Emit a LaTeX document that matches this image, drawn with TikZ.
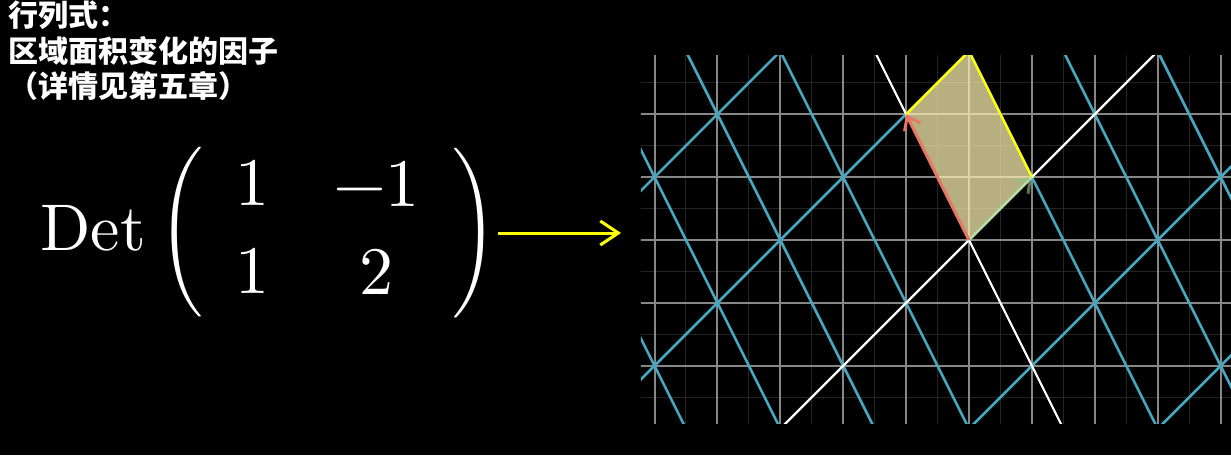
\documentclass[tikz,border=0pt]{standalone}
\usepackage{fontspec}
\newfontfamily\cjk{Noto Sans CJK SC}
\newfontfamily\cmten{lmroman10-regular.otf}
\usepackage{tikz}
\usetikzlibrary{arrows.meta,positioning,calc}
\definecolor{gridgray}{RGB}{135,135,135}
\definecolor{subgray}{RGB}{36,36,36}
\definecolor{tealline}{RGB}{69,168,192}
\definecolor{areafill}{RGB}{255,243,178}
\definecolor{ihatcol}{RGB}{140,200,130}
\definecolor{jhatcol}{RGB}{232,118,100}
\definecolor{arrowyellow}{RGB}{255,255,0}
\newcommand{\bigparen}[1]{\scalebox{2.83}{$\nulldelimiterspace=0pt #1$}}
\tikzset{
    titletext/.style={text=white, font=\cjk\bfseries\fontsize{15}{18}\selectfont,
        inner sep=0pt, anchor=base west},
    dettext/.style={text=white, font=\cmten\fontsize{33}{38}\selectfont, inner sep=0pt},
    entrytext/.style={text=white, font=\cmten\fontsize{34}{40}\selectfont, inner sep=0pt, anchor=base},
    detarrow/.style={-{Straight Barb[length=9pt,width=12pt]}, line width=1.5pt, draw=arrowyellow},
    minorline/.style={draw=subgray, line width=0.5pt},
    majorline/.style={draw=gridgray, line width=1pt},
    tealgrid/.style={draw=tealline, line width=1.3pt},
    axisline/.style={draw=white, line width=1.1pt},
    vecarrow/.style={-{Straight Barb[length=6pt,width=9pt]}, line width=1.5pt}
}

\begin{document}
\begin{tikzpicture}[x=0.5pt, y=-0.5pt]
\fill[black] (0,0) rectangle (1231,455);
\useasboundingbox (0,0) rectangle (1231,455);

% caption
\node[titletext] (title1) at (8,26.5) {行列式：};
\node[titletext] (title2) at (8,62) {区域面积变化的因子};
\node[titletext] (title3) at (8,97) {（详情见第五章）};

% determinant
\node[dettext, anchor=base west] (det) at (40,250) {Det};
\node[text=white, inner sep=0pt] (lpar) at (181,232)
    {\bigparen{\left(\vcenter{\hrule height 27pt width 0pt}\right.}};
\node[text=white, inner sep=0pt] (rpar) at (475,233)
    {\bigparen{\left.\vcenter{\hrule height 27pt width 0pt}\right)}};
\node[entrytext] (a11) at (252.5,205) {1};
\node[entrytext] (a12) at (376.5,206) {−1};
\node[entrytext] (a21) at (252.5,293) {1};
\node[entrytext] (a22) at (376,294) {2};
\coordinate (arrowtip) at (621,233);
\draw[detarrow] (rpar) -- (arrowtip);

% transformed plane
\begin{scope}[shift={(969,240)}, x=31.45pt, y=31.45pt]
\clip (-5.215,-2.925) rectangle (4.165,2.941);
\foreach \i in {-5.5,-4.5,...,4.5} \draw[minorline] (\i,-3.5) -- (\i,3.5);
\foreach \j in {-3.5,-2.5,...,3.5} \draw[minorline] (-6,\j) -- (5,\j);
\foreach \i in {-5,...,4} \draw[majorline] (\i,-3.5) -- (\i,3.5);
\foreach \j in {-3,...,3} \draw[majorline] (-6,\j) -- (5,\j);
\foreach \b in {-2,-1,1,2} \draw[tealgrid] (-9,{-9+3*(\b)}) -- (9,{9+3*(\b)});
\foreach \a in {-4,-3,-2,-1,1,2,3} \draw[tealgrid] ({\a+3},{\a-6}) -- ({\a-3},{\a+6});
\draw[axisline] (-9,-9) -- (9,9);
\draw[axisline] (3,-6) -- (-3,6);
\coordinate (O) at (0,0);
\coordinate (ihat) at (1,1);
\coordinate (jhat) at (-1,2);
\coordinate (corner) at (0,3);
\fill[areafill, fill opacity=0.72] (O) -- (ihat) -- (corner) -- (jhat) -- cycle;
\draw[arrowyellow, line width=1.2pt] (jhat) -- (corner) -- (ihat);
\draw[vecarrow, draw=ihatcol, draw opacity=0.6] (O) -- (ihat);
\draw[vecarrow, draw=jhatcol] (O) -- (jhat);
\end{scope}
\end{tikzpicture}
\end{document}
